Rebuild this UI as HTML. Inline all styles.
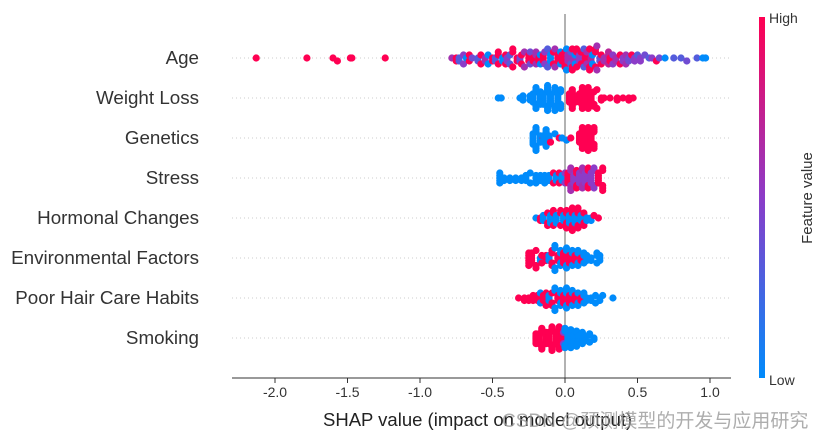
<!DOCTYPE html>
<html><head><meta charset="utf-8"><style>
body{margin:0;background:#fff;width:828px;height:439px;overflow:hidden}
svg{display:block;font-family:"Liberation Sans","Noto Sans CJK SC",sans-serif}
</style></head><body>
<svg id="chart" width="828" height="439" viewBox="0 0 828 439">
<defs><linearGradient id="cbg" x1="0" y1="1" x2="0" y2="0">
<stop offset="0" stop-color="#008bfb"/><stop offset="0.5" stop-color="#8c3cc8"/><stop offset="1" stop-color="#ff0052"/></linearGradient></defs>
<g id="grid"></g>
<line x1="565" y1="14" x2="565" y2="378" stroke="#999" stroke-width="1.5"/>
<g id="dots"></g>
<g id="labels"></g>
<line x1="232" y1="378" x2="731" y2="378" stroke="#333" stroke-width="1"/>
<g id="ticks"></g>
<text x="323" y="426" font-size="18.5" fill="#222">SHAP value (impact on model output)</text>
<rect x="759" y="17" width="6" height="361" fill="url(#cbg)"/>
<text x="769" y="23" font-size="14" fill="#333">High</text>
<text x="769" y="385" font-size="14" fill="#333">Low</text>
<text transform="translate(812,198) rotate(-90)" text-anchor="middle" font-size="15" fill="#333">Feature value</text>
<text x="502" y="427" font-size="19" fill="#999" fill-opacity="0.8">CSDN @预测模型的开发与应用研究</text>
</svg>
<script>
const features = ["Age","Weight Loss","Genetics","Stress","Hormonal Changes","Environmental Factors","Poor Hair Care Habits","Smoking"];
const xTicks = [-2.0,-1.5,-1.0,-0.5,0.0,0.5,1.0];
// [shap value, feature value (0 low..1 high), count]
const ageData = [[-2.13,1,1],[-1.78,1,1],[-1.6,1,1],[-1.57,1,1],[-1.48,1,1],[-1.47,1,1],[-1.24,1,1],
[-0.78,0.6,1],[-0.75,1,2],[-0.73,0.3,2],[-0.7,0.5,2],[-0.68,0,1],[-0.66,1,2],[-0.64,0.4,1],[-0.6,0.3,2],[-0.58,1,2],[-0.55,0.6,2],[-0.53,0,2],[-0.5,1,2],[-0.48,0.3,2],[-0.46,1,3],[-0.43,0,2],[-0.41,1,2],[-0.4,0.5,2],[-0.38,0.3,2],[-0.36,1,3],[-0.33,1,2],[-0.31,0.4,2],[-0.3,1,2],[-0.28,0.6,2],[-0.25,1,3],[-0.24,0.4,2],[-0.22,1,2],[-0.2,0.6,3],[-0.18,1,2],[-0.17,0,2],[-0.15,1,3],[-0.14,0.5,2],[-0.12,0.3,2],[-0.1,0,3],[-0.08,1,2],[-0.07,0.6,2],[-0.05,1,3],[-0.03,0,2],[-0.02,1,3],[0.0,1,3],[0.01,0,2],[0.02,0.6,3],[0.04,0.3,2],[0.05,1,3],[0.06,0.6,2],[0.07,0,2],[0.08,1,3],[0.1,0.5,3],[0.11,1,2],[0.13,0.3,2],[0.14,1,3],[0.15,0.6,2],[0.17,1,3],[0.18,0.7,2],[0.19,0,2],[0.21,1,3],[0.22,0.6,2],[0.24,0.4,2],[0.25,1,2],[0.27,0.6,2],[0.3,0.7,3],[0.31,1,2],[0.33,0.5,2],[0.35,0.6,2],[0.38,1,2],[0.4,0.5,2],[0.42,0.6,2],[0.44,0.4,2],[0.46,1,1],[0.48,0.5,2],[0.5,0.3,1],[0.52,0.5,2],[0.55,0.4,1],[0.58,0.3,1],[0.6,0.5,1],[0.63,1,1],[0.65,0.4,1],[0.69,0,1],[0.75,0.3,1],[0.8,0.3,1],[0.84,0.4,1],[0.91,0.3,1],[0.95,0,1],[0.97,0,1]];
const weightData = [[-0.46,0,1],[-0.44,0,1],[-0.31,0,1],[-0.29,0,2],[-0.24,0,3],[-0.22,0,5],[-0.2,0,6],[-0.17,0,7],[-0.15,0,6],[-0.12,0,7],[-0.1,0,6],[-0.07,0,6],[-0.05,0,5],[-0.03,0,5],[0.03,1,5],[0.05,1,5],[0.07,1,4],[0.1,1,5],[0.12,1,6],[0.14,1,6],[0.16,1,5],[0.18,1,5],[0.2,1,3],[0.22,1,2],[0.25,1,2],[0.27,1,1],[0.31,1,1],[0.36,1,2],[0.4,1,1],[0.44,1,2],[0.47,1,1]];
const geneticsData = [[-0.22,0,6],[-0.2,0,6],[-0.17,0,4],[-0.15,1,1],[-0.15,0,3],[-0.13,0,5],[-0.11,0,3],[-0.1,1,1],[-0.07,0,1],[-0.04,1,1],[-0.02,0,1],[0.01,0,1],[0.04,1,1],[0.1,1,5],[0.12,1,6],[0.14,1,6],[0.16,1,6],[0.18,1,5],[0.2,1,6]];
const stressData = [[-0.45,0,5],[-0.42,0,2],[-0.38,0,2],[-0.34,0,2],[-0.3,0,2],[-0.27,0,3],[-0.24,0,2],[-0.2,0,4],[-0.17,0,3],[-0.14,0,4],[-0.11,0,3],[-0.08,1,2],[-0.06,0,3],[-0.04,1,2],[-0.02,0,3],[0.0,0.5,2],[0.02,1,5],[0.04,0.6,5],[0.06,0.5,4],[0.08,1,4],[0.1,0.5,5],[0.12,0.6,4],[0.14,0.5,5],[0.16,1,4],[0.18,0.5,5],[0.2,0.5,4],[0.23,1,5],[0.26,1,5]];
const hormonalData = [[-0.2,0,1],[-0.17,1,2],[-0.15,0,3],[-0.12,1,3],[-0.1,0,4],[-0.08,1,3],[-0.06,0,4],[-0.03,1,3],[-0.01,0,3],[0.01,1,5],[0.03,0,4],[0.05,1,6],[0.07,0,4],[0.09,1,5],[0.11,0,3],[0.13,1,3],[0.15,0,2],[0.18,0,2],[0.2,1,1],[0.23,1,1]];
const envData = [[-0.25,1,6],[-0.23,1,5],[-0.2,1,3],[-0.17,0,2],[-0.16,1,2],[-0.13,1,3],[-0.11,0,3],[-0.09,1,4],[-0.07,0,4],[-0.05,1,3],[-0.03,0,4],[-0.01,1,5],[0.01,0,4],[0.03,1,4],[0.05,0,3],[0.07,1,3],[0.09,0,4],[0.11,1,2],[0.13,0,3],[0.15,0,3],[0.18,0,2],[0.22,0,3],[0.24,0,3]];
const hairData = [[-0.32,1,1],[-0.28,1,2],[-0.25,1,2],[-0.22,1,3],[-0.19,1,3],[-0.17,0,2],[-0.15,1,3],[-0.13,1,3],[-0.11,0,3],[-0.09,1,3],[-0.07,0,4],[-0.05,1,3],[-0.03,0,4],[-0.01,1,4],[0.01,0,5],[0.03,1,4],[0.05,0,3],[0.07,1,3],[0.09,0,3],[0.11,1,2],[0.13,0,3],[0.15,0,2],[0.18,0,2],[0.21,0,2],[0.24,0,2],[0.26,0,1],[0.33,0,1]];
const smokingData = [[-0.2,1,8],[-0.18,1,8],[-0.16,1,8],[-0.13,1,9],[-0.11,1,9],[-0.09,1,9],[-0.06,1,9],[-0.04,1,8],[-0.02,1,7],[-0.01,0.5,2],[0.0,0,6],[0.02,0,7],[0.04,0,7],[0.06,0,6],[0.08,0,6],[0.1,0,5],[0.12,0,4],[0.14,0,4],[0.17,0,3],[0.2,0,2]];
const allData = [ageData,weightData,geneticsData,stressData,hormonalData,envData,hairData,smokingData];

const NS="http://www.w3.org/2000/svg";
const xScale = v => 565 + v*145;
const yRow = i => 58 + i*40;
function colorOf(t){
  const a=[0,139,251],m=[140,60,200],b=[255,0,82];
  let c; if(t<=0.5){const k=t/0.5;c=a.map((v,j)=>Math.round(v+(m[j]-v)*k));}
  else{const k=(t-0.5)/0.5;c=m.map((v,j)=>Math.round(v+(b[j]-v)*k));}
  return `rgb(${c[0]},${c[1]},${c[2]})`;
}
function mk(tag,attrs,parent){const e=document.createElementNS(NS,tag);for(const k in attrs)e.setAttribute(k,attrs[k]);parent.appendChild(e);return e;}
const grid=document.getElementById('grid'),dots=document.getElementById('dots'),labels=document.getElementById('labels'),ticks=document.getElementById('ticks');
features.forEach((f,i)=>{
  const y=yRow(i);
  const gl=mk('line',{x1:232,x2:731,y1:y,y2:y,stroke:'#ccc','stroke-width':1,'stroke-dasharray':'1 3'},grid);
  
  
  const t=mk('text',{x:199,y:y+6,'text-anchor':'end','font-size':18.8,fill:'#333'},labels);
  t.textContent=f;
  
  
  const pts=[];
  allData[i].forEach(d=>{for(let c=0;c<d[2];c++)pts.push([d[0],d[1]]);});
  const bins={};
  const info=pts.map(p=>{
    const px=xScale(p[0]);const b=Math.round(px/6);
    bins[b]=(bins[b]||0)+1;const n=bins[b]-1;
    return [px,((n+1)>>1)*(n%2?1:-1),p[1]];
  });
  let maxr=1;info.forEach(q=>{maxr=Math.max(maxr,Math.abs(q[1]));});
  const step=Math.min(3,12.5/maxr);
  info.forEach(q=>{
    const c=mk('circle',{cx:q[0].toFixed(1),cy:(y+q[1]*step).toFixed(1),r:3.6,fill:colorOf(q[2])},dots);
    
    
  });
});
xTicks.forEach(v=>{
  const x=xScale(v);
  const l=mk('line',{x1:x,x2:x,y1:378,y2:383,stroke:'#333'},ticks);
  
  
  const t=mk('text',{x:x,y:397,'text-anchor':'middle','font-size':14,fill:'#333'},ticks);
  t.textContent=v.toFixed(1);
  
  
});
</script>
</body></html>
